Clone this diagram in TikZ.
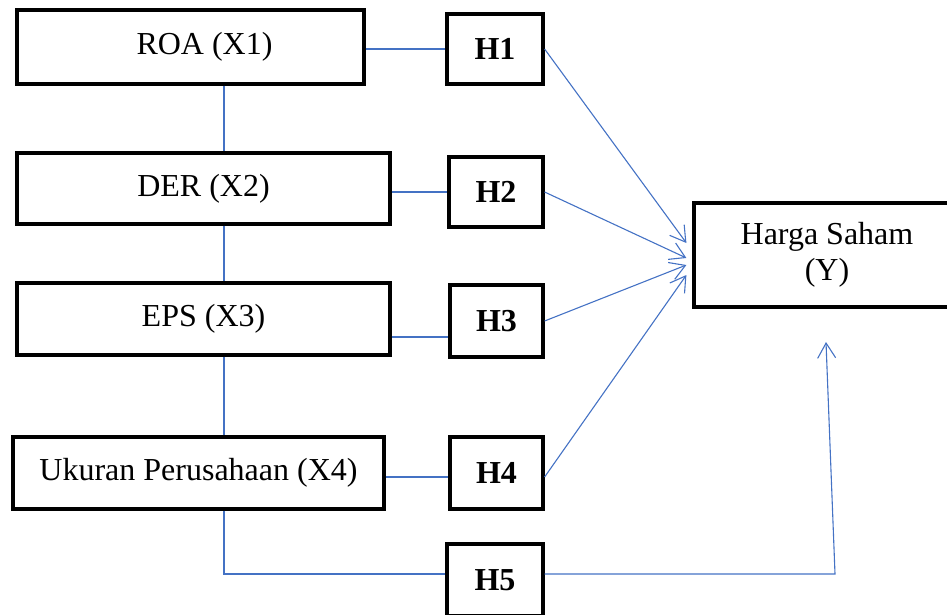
\documentclass[tikz,border=0pt]{standalone}
\usepackage{fontspec}
\setmainfont{Liberation Serif}
\usetikzlibrary{arrows.meta,calc}
\definecolor{linkblue}{RGB}{68,114,196}
\tikzset{
  box/.style={draw=black, line width=3.2pt, fill=white, inner sep=0pt, align=center,
    font=\fontsize{32}{36}\selectfont},
  hbox/.style={box, font=\fontsize{32}{36}\selectfont\bfseries},
  conn/.style={draw=linkblue, line width=1.1pt},
  arr/.style={conn, -{Straight Barb[length=15pt,width=18pt]}},
}
\begin{document}
\begin{tikzpicture}[x=1pt,y=-1pt]
\useasboundingbox (0,0) rectangle (947,614);
\clip (0,0) rectangle (947,614);
% boxes
\node[box, minimum width=347pt, minimum height=74pt] (roa) at (190.5,47) {\hspace*{28pt}ROA (X1)};
\node[box, minimum width=373pt, minimum height=71pt] (der) at (203.5,188.5) {DER (X2)};
\node[box, minimum width=373pt, minimum height=72pt] (eps) at (203.5,319) {EPS (X3)};
\node[box, minimum width=371pt, minimum height=72pt] (uk) at (198.5,473) {Ukuran Perusahaan (X4)};
\node[hbox, minimum width=96pt, minimum height=70pt] (h1) at (495,49) {H1};
\node[hbox, minimum width=94pt, minimum height=70pt] (h2) at (496,192) {H2};
\node[hbox, minimum width=93pt, minimum height=72pt] (h3) at (496.5,321) {H3};
\node[hbox, minimum width=93pt, minimum height=72pt] (h4) at (496.5,473) {H4};
\node[hbox, minimum width=96pt, minimum height=72pt] (h5) at (495,580) {H5};
\node[box, minimum width=266pt, minimum height=104pt] (y) at (827,255) {Harga Saham\\(Y)};
% vertical chain
\coordinate (vx) at (224,0);
\draw[conn] (roa.south -| vx) -- (der.north -| vx);
\draw[conn] (der.south -| vx) -- (eps.north -| vx);
\draw[conn] (eps.south -| vx) -- (uk.north -| vx);
\draw[conn] (uk.south -| vx) |- ([yshift=6pt]h5.west);
% horizontal links
\draw[conn] (h1.west -| roa.east) -- (h1.west);
\draw[conn] (h2.west -| der.east) -- (h2.west);
\draw[conn] ([yshift=-16pt]h3.west -| eps.east) -- ([yshift=-16pt]h3.west);
\draw[conn] ([yshift=-4pt]h4.west -| uk.east) -- ([yshift=-4pt]h4.west);
% arrows to Y
\draw[arr] (h1.east) -- ($(y.west)+(-6,-12)$);
\draw[arr] (h2.east) -- ($(y.west)+(-6,3)$);
\draw[arr] (h3.east) -- ($(y.west)+(-6,10)$);
\draw[arr] ([yshift=-4pt]h4.east) -- ($(y.west)+(-6,20)$);
\coordinate (c5) at (835,574);
\coordinate (t5) at (826,342);
\draw[arr] ([yshift=6pt]h5.east) -- (c5) -- (t5);
\end{tikzpicture}
\end{document}
